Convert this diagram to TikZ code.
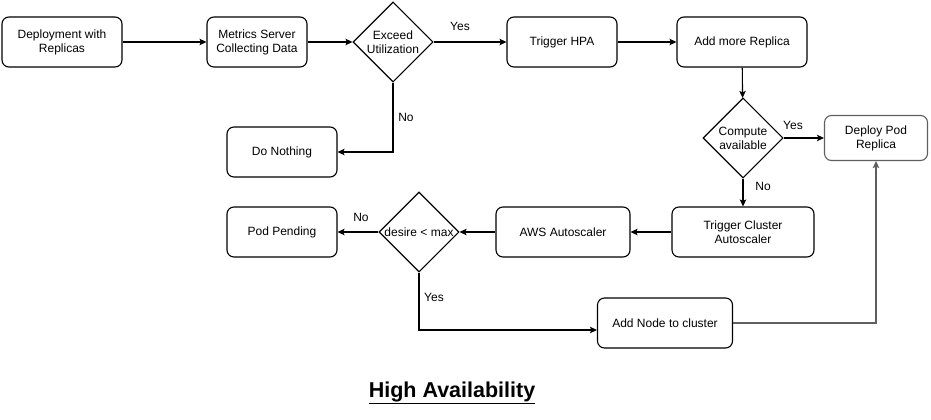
\documentclass[tikz,border=0pt]{standalone}
\usepackage{fontspec}
\setmainfont{Liberation Sans}
\usetikzlibrary{shapes.geometric,arrows.meta}
\definecolor{soft-gray}{HTML}{5F5F5F}
\tikzset{
    flow-box/.style = {draw=black, fill=white, line width=1.1pt, rectangle, rounded corners=7pt, minimum height=50pt, align=center, inner sep=2pt, font=\fontsize{12}{14}\selectfont},
    flow-decision/.style = {draw=black, fill=white, line width=1.1pt, diamond, minimum width=80pt, minimum height=80pt, inner sep=0pt, align=center, font=\fontsize{12}{14}\selectfont},
    flow-arrow/.style = {draw=black, line width=1.1pt, -{Stealth[length=7pt, width=6.5pt, inset=1.5pt]}},
    flow-label/.style = {font=\fontsize{12}{14}\selectfont, inner sep=0pt},
}

\begin{document}
\begin{tikzpicture}[x=1pt, y=-1pt]
\useasboundingbox (0,0) rectangle (931,420);
% top row
\node[flow-box, minimum width=120pt] (deployment) at (62,42) {Deployment with\\Replicas};
\node[flow-box, minimum width=100pt] (metrics) at (257,42) {Metrics Server\\Collecting Data};
\node[flow-decision] (exceed) at (393,42) {Exceed\\Utilization};
\node[flow-box, minimum width=110pt] (hpa) at (562,42) {Trigger HPA};
\node[flow-box, minimum width=130pt] (addreplica) at (742,42) {Add more Replica};
% middle row
\node[flow-box, minimum width=110pt] (nothing) at (282,152) {Do Nothing};
\node[flow-decision] (compute) at (743,138) {Compute\\available};
\node[flow-box, draw=soft-gray, minimum width=103pt, minimum height=45pt] (deploypod) at (876,138) {Deploy Pod\\Replica};
% lower rows
\node[flow-box, minimum width=110pt] (pending) at (282,232) {Pod Pending};
\node[flow-decision] (desire) at (419,232) {desire < max};
\node[flow-box, minimum width=134pt] (aws) at (563,232) {AWS Autoscaler};
\node[flow-box, minimum width=142pt] (cluster) at (743,232) {Trigger Cluster\\Autoscaler};
\node[flow-box, minimum width=135pt] (addnode) at (665,323) {Add Node to cluster};
% title
\node[anchor=base, inner sep=0pt, font=\fontsize{21.5}{25}\selectfont\bfseries] (title) at (452,397) {\underline{High Availability}};

% connectors
\draw[flow-arrow] (deployment) -- (metrics);
\draw[flow-arrow] (metrics) -- (exceed);
\draw[flow-arrow] (exceed) -- (hpa);
\draw[flow-arrow] (hpa) -- (addreplica);
\draw[flow-arrow] (exceed.south) |- (nothing.east);
\draw[flow-arrow] (addreplica) -- (compute);
\draw[flow-arrow] (compute) -- (deploypod);
\draw[flow-arrow] (compute) -- (cluster);
\draw[flow-arrow] (cluster) -- (aws);
\draw[flow-arrow] (aws) -- (desire);
\draw[flow-arrow] (desire) -- (pending);
\draw[flow-arrow] (desire.south) |- ([yshift=-7pt]addnode.west);
\draw[flow-arrow, draw=soft-gray] (addnode.east) -| (deploypod.south);

% labels
\node[flow-label] (yes-exceed) at (460,26) {Yes};
\node[flow-label] (no-exceed) at (406,117) {No};
\node[flow-label] (yes-compute) at (793,125) {Yes};
\node[flow-label] (no-compute) at (763,186) {No};
\node[flow-label] (no-desire) at (361,217) {No};
\node[flow-label] (yes-desire) at (434,297) {Yes};
\end{tikzpicture}
\end{document}
